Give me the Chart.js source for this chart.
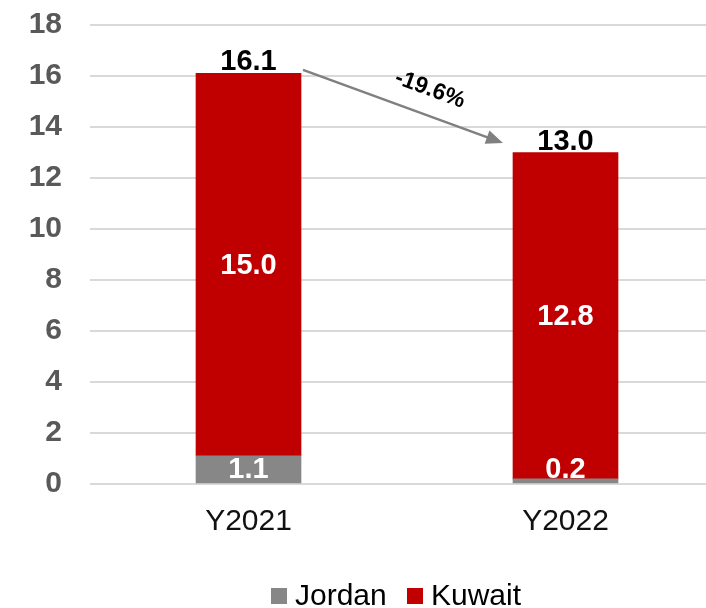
<!DOCTYPE html>
<html>
<head>
<meta charset="utf-8">
<style>
  html, body { margin: 0; padding: 0; background: #ffffff; overflow: hidden; }
  canvas { display: block; }
</style>
<script src="https://cdn.jsdelivr.net/npm/chart.js@4.4.1/dist/chart.umd.min.js"></script>
</head>
<body>
<canvas id="c" width="730" height="608"></canvas>
<script>
const categories = ['Y2021', 'Y2022'];
const jordan = [1.1, 0.2];
const kuwait = [15.0, 12.8];
const totals = [16.1, 13.0];
const changeLabel = '-19.6%';
const yTicks = [0, 2, 4, 6, 8, 10, 12, 14, 16, 18];

const FONT = '"Liberation Sans", Arial, sans-serif';

const overlay = {
  id: 'overlay',
  afterDatasetsDraw(chart) {
    const ctx = chart.ctx;
    const y = chart.scales.y;
    const metaJ = chart.getDatasetMeta(0);
    const metaK = chart.getDatasetMeta(1);
    const base = y.getPixelForValue(0);
    ctx.save();
    ctx.textAlign = 'center';
    ctx.textBaseline = 'middle';
    ctx.font = 'bold 29px ' + FONT;
    ctx.fillStyle = '#ffffff';
    metaJ.data.forEach((bar, i) => {
      const c = (bar.y + bar.base) / 2;
      ctx.fillText(jordan[i].toFixed(1), bar.x, Math.min(c, base - 15) + 1);
    });
    metaK.data.forEach((bar, i) => {
      ctx.fillText(kuwait[i].toFixed(1), bar.x, (bar.y + bar.base) / 2 + 1);
    });
    ctx.fillStyle = '#000000';
    ctx.textBaseline = 'alphabetic';
    metaK.data.forEach((bar, i) => {
      const top = y.getPixelForValue(totals[i]);
      ctx.fillText(totals[i].toFixed(1), bar.x, top - 3);
    });

    // arrow
    const b1 = metaK.data[0], b2 = metaK.data[1];
    const x1 = b1.x + b1.width / 2 + 2;
    const y1 = y.getPixelForValue(totals[0]) - 3.5;
    const x2 = b2.x - b2.width / 2 - 10;
    const y2 = y.getPixelForValue(totals[1]) - 9.5;
    const ang = Math.atan2(y2 - y1, x2 - x1);
    const headLen = 17, headW = 7;
    ctx.strokeStyle = '#808080';
    ctx.fillStyle = '#808080';
    ctx.lineWidth = 2.5;
    ctx.beginPath();
    ctx.moveTo(x1, y1);
    ctx.lineTo(x2 - Math.cos(ang) * headLen * 0.8, y2 - Math.sin(ang) * headLen * 0.8);
    ctx.stroke();
    ctx.beginPath();
    ctx.moveTo(x2, y2);
    ctx.lineTo(x2 - Math.cos(ang) * headLen + Math.sin(ang) * headW, y2 - Math.sin(ang) * headLen - Math.cos(ang) * headW);
    ctx.lineTo(x2 - Math.cos(ang) * headLen - Math.sin(ang) * headW, y2 - Math.sin(ang) * headLen + Math.cos(ang) * headW);
    ctx.closePath();
    ctx.fill();

    const mx = (x1 + x2) / 2 + 27, my = (y1 + y2) / 2 - 17;
    ctx.translate(mx, my);
    ctx.rotate(ang);
    ctx.fillStyle = '#000000';
    ctx.font = 'bold 23px ' + FONT;
    ctx.textAlign = 'center';
    ctx.textBaseline = 'middle';
    ctx.fillText(changeLabel, 0, 0);
    ctx.restore();

    // legend
    ctx.save();
    ctx.font = '30px ' + FONT;
    ctx.textBaseline = 'middle';
    ctx.textAlign = 'left';
    const items = [
      { text: 'Jordan', color: chart.data.datasets[0].backgroundColor, x: 271 },
      { text: 'Kuwait', color: chart.data.datasets[1].backgroundColor, x: 407 }
    ];
    const ly = 596;
    items.forEach(it => {
      ctx.fillStyle = it.color;
      ctx.fillRect(it.x, ly - 8, 16, 16);
      ctx.fillStyle = '#000000';
      ctx.fillText(it.text, it.x + 24, ly + 1);
    });
    ctx.restore();
  }
};

new Chart(document.getElementById('c'), {
  type: 'bar',
  data: {
    labels: categories,
    datasets: [
      { label: 'Jordan', data: jordan, backgroundColor: '#878787', barThickness: 105 },
      { label: 'Kuwait', data: kuwait, backgroundColor: '#C00000', barThickness: 105 }
    ]
  },
  options: {
    responsive: false,
    animation: false,
    layout: { padding: { top: 25, right: 6, left: 0, bottom: 0 } },
    plugins: { legend: { display: false }, tooltip: { enabled: false } },
    scales: {
      x: {
        stacked: true,
        grid: { display: false, drawTicks: false },
        border: { display: false },
        ticks: { color: '#111111', font: { family: FONT, size: 30 }, padding: 20 },
        afterFit(s) { s.height = 124; s.paddingLeft = 0; s.paddingRight = 0; }
      },
      y: {
        stacked: true,
        min: 0,
        max: 18,
        afterBuildTicks(s) { s.ticks = yTicks.map(v => ({ value: v })); },
        grid: { color: '#d9d9d9', lineWidth: 2, drawTicks: false },
        border: { display: false },
        ticks: { color: '#595959', font: { family: FONT, size: 30, weight: 'bold' }, padding: 28 },
        afterFit(s) { s.width = 90; s.paddingTop = 0; s.paddingBottom = 0; }
      }
    }
  },
  plugins: [overlay]
});
</script>
</body>
</html>
